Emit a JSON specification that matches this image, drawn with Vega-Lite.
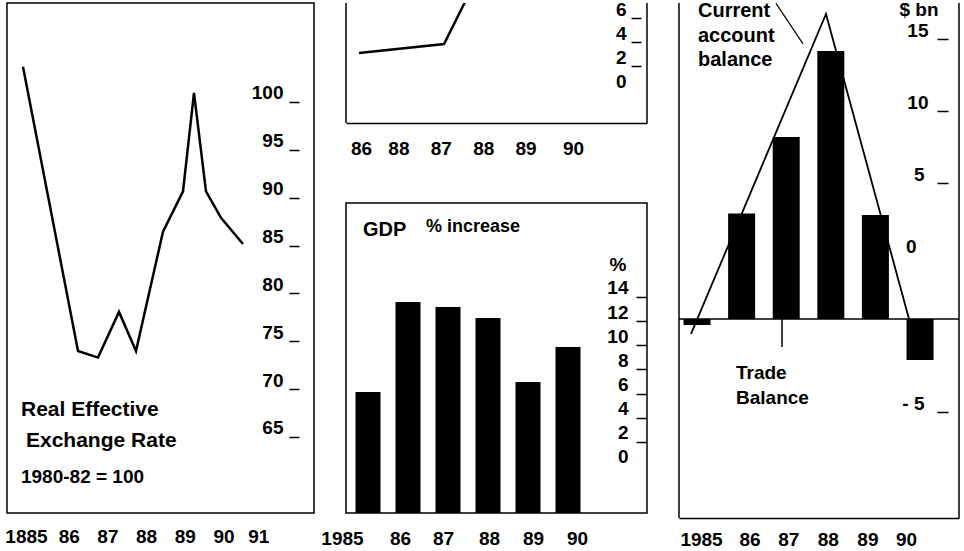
{
  "$schema": "https://vega.github.io/schema/vega-lite/v6.json",
  "background": "white",
  "padding": {"left": 4, "top": 0, "right": 0, "bottom": 0},
  "spacing": 32,
  "bounds": "flush",
  "config": {
    "font": "Liberation Sans",
    "view": {"stroke": "black", "strokeWidth": 1.5},
    "axis": {"labelFont": "Liberation Sans", "labelFontWeight": "bold", "labelFontSize": 19, "labelColor": "black", "grid": false, "domain": false, "ticks": false, "tickSize": 0, "tickColor": "black", "tickWidth": 1.5, "domainColor": "black", "domainWidth": 1.5},
    "text": {"font": "Liberation Sans", "fontWeight": "bold", "fontSize": 19, "color": "black"}
  },
  "datasets": {
    "rate": [
      {"year": 1984.922, "rate": 102.75}, {"year": 1986.344, "rate": 73.04}, {"year": 1986.86, "rate": 72.35},
      {"year": 1987.403, "rate": 77.12}, {"year": 1987.842, "rate": 73.04}, {"year": 1988.54, "rate": 85.5},
      {"year": 1989.057, "rate": 89.72}, {"year": 1989.341, "rate": 100}, {"year": 1989.651, "rate": 89.72},
      {"year": 1990.039, "rate": 86.96}, {"year": 1990.607, "rate": 84.22}
    ],
    "top": [
      {"t": -0.047, "v": 2.29}, {"t": 1.958, "v": 3.04}, {"t": 2.476, "v": 6.71}, {"t": 2.71, "v": 8.4}
    ],
    "gdp": [
      {"year": 1985, "gdp": 5.39}, {"year": 1986, "gdp": 12.84}, {"year": 1987, "gdp": 12.43},
      {"year": 1988, "gdp": 11.52}, {"year": 1989, "gdp": 6.21}, {"year": 1990, "gdp": 9.11}
    ],
    "trade": [
      {"year": 1985, "trade": -5.42}, {"year": 1986, "trade": 2.32}, {"year": 1987, "trade": 7.64},
      {"year": 1988, "trade": 13.61}, {"year": 1989, "trade": 2.22}, {"year": 1990, "trade": -7.85}
    ],
    "current": [
      {"year": 1984.865, "ca": -6.04}, {"year": 1987.892, "ca": 16.18}, {"year": 1989.753, "ca": -5.0}
    ]
  },
  "hconcat": [
    {
      "width": 307,
      "height": 510,
      "layer": [
        {
          "data": {"name": "rate"},
          "mark": {"type": "line", "color": "black", "strokeWidth": 2.5},
          "encoding": {
            "x": {"field": "year", "type": "quantitative", "title": null,
              "scale": {"domain": [1984.509, 1992.442], "nice": false, "zero": false},
              "axis": {"values": [1985, 1986, 1987, 1988, 1989, 1990, 1991], "format": "d",
                "labelExpr": "datum.value == 1985 ? '1885' : substring(datum.label, 2)",
                "labelPadding": 14,
                "labelOffset": {"condition": {"test": "datum.value > 1985 && datum.value < 1991", "value": 4}, "value": 0}}},
            "y": {"field": "rate", "type": "quantitative", "title": null,
              "scale": {"domain": [56.11, 109.4], "nice": false, "zero": false},
              "axis": {"orient": "left", "offset": -292, "values": [65, 70, 75, 80, 85, 90, 95, 100],
                "ticks": true, "tickSize": 10, "tickOffset": 9, "labelOffset": -9, "labelPadding": 6}}
          }
        },
        {
          "data": {"values": [{}]},
          "mark": {"type": "text", "text": "Real Effective", "align": "left", "baseline": "middle", "fontSize": 21},
          "encoding": {"x": {"datum": 1984.87}, "y": {"datum": 66.87}}
        },
        {
          "data": {"values": [{}]},
          "mark": {"type": "text", "text": "Exchange Rate", "align": "left", "baseline": "middle", "fontSize": 21},
          "encoding": {"x": {"datum": 1985.0}, "y": {"datum": 63.64}}
        },
        {
          "data": {"values": [{}]},
          "mark": {"type": "text", "text": "1980-82 = 100", "align": "left", "baseline": "middle", "fontSize": 19},
          "encoding": {"x": {"datum": 1984.87}, "y": {"datum": 59.87}}
        }
      ]
    },
    {
      "width": 301,
      "height": 510,
      "view": {"stroke": null},
      "resolve": {"scale": {"x": "independent", "y": "independent"}, "axis": {"x": "independent", "y": "independent"}},
      "layer": [
        {
          "layer": [
            {
              "data": {"name": "top"},
              "mark": {"type": "line", "color": "black", "strokeWidth": 2.5, "clip": true},
              "encoding": {
                "x": {"field": "t", "type": "quantitative", "title": null,
                  "scale": {"domain": [-0.354, 6.745], "nice": false, "zero": false},
                  "axis": {"orient": "bottom", "offset": -390, "values": [0, 1, 2, 3, 4, 5], "domain": true,
                    "labelExpr": "['86','88','87','88','89','90'][datum.value]", "labelPadding": 16,
                    "labelOffset": {"condition": {"test": "datum.value >= 1 && datum.value <= 4", "value": -5}, "value": 0}}},
                "y": {"field": "v", "type": "quantitative", "title": null,
                  "scale": {"domain": [-36.04, 6.46], "nice": false, "zero": false},
                  "axis": {"orient": "left", "offset": -295, "values": [0, 2, 4, 6],
                    "ticks": true, "tickSize": 10, "tickOffset": 9, "labelOffset": -8, "labelPadding": 5,
                    "tickOpacity": {"condition": {"test": "datum.value === 0", "value": 0}, "value": 1}}}
              }
            },
            {
              "data": {"values": [{}]},
              "mark": {"type": "rule", "color": "black", "strokeWidth": 1.5},
              "encoding": {"x": {"datum": -0.354}, "y": {"datum": 6.46}, "y2": {"datum": -3.54}}
            },
            {
              "data": {"values": [{}]},
              "mark": {"type": "rule", "color": "black", "strokeWidth": 1.5},
              "encoding": {"x": {"datum": 6.745}, "y": {"datum": 6.46}, "y2": {"datum": -3.54}}
            }
          ]
        },
        {
          "layer": [
            {
              "data": {"name": "gdp"},
              "mark": {"type": "bar", "color": "black", "size": 25},
              "encoding": {
                "x": {"field": "year", "type": "quantitative", "title": null,
                  "scale": {"domain": [1984.45, 1991.975], "nice": false, "zero": false, "padding": 0},
                  "axis": {"orient": "bottom", "values": [1985, 1986, 1987, 1988, 1989, 1990], "format": "d",
                    "labelExpr": "datum.value == 1985 ? '1985' : substring(datum.label, 2)",
                    "labelPadding": 16,
                    "labelOffset": {"condition": [
                      {"test": "datum.value == 1985", "value": -26},
                      {"test": "datum.value == 1986", "value": -8},
                      {"test": "datum.value == 1987", "value": -5},
                      {"test": "datum.value == 1989", "value": 5},
                      {"test": "datum.value == 1990", "value": 9}
                    ], "value": 1}}},
                "y": {"field": "gdp", "type": "quantitative", "title": null,
                  "scale": {"domain": [-4.64, 37.61], "nice": false, "zero": false},
                  "axis": {"orient": "left", "offset": -300, "values": [0, 2, 4, 6, 8, 10, 12, 14],
                    "ticks": true, "tickSize": 10, "tickOffset": 9, "labelOffset": -9, "labelPadding": 8,
                    "tickOpacity": {"condition": {"test": "datum.value === 0", "value": 0}, "value": 1}}},
                "y2": {"datum": -4.64}
              }
            },
            {
              "data": {"values": [{}]},
              "mark": {"type": "rect", "fillOpacity": 0, "stroke": "black", "strokeWidth": 1.5},
              "encoding": {"x": {"datum": 1984.45}, "x2": {"datum": 1991.975}, "y": {"datum": 21.04}, "y2": {"datum": -4.64}}
            },
            {
              "data": {"values": [{}]},
              "mark": {"type": "text", "text": "GDP", "align": "left", "baseline": "middle", "fontSize": 20},
              "encoding": {"x": {"datum": 1984.875}, "y": {"datum": 18.8}}
            },
            {
              "data": {"values": [{}]},
              "mark": {"type": "text", "text": "% increase", "align": "left", "baseline": "middle", "fontSize": 18},
              "encoding": {"x": {"datum": 1986.45}, "y": {"datum": 19.06}}
            },
            {
              "data": {"values": [{}]},
              "mark": {"type": "text", "text": "%", "align": "center", "baseline": "middle", "fontSize": 19},
              "encoding": {"x": {"datum": 1991.25}, "y": {"datum": 15.9}}
            }
          ]
        }
      ]
    },
    {
      "width": 280,
      "height": 515,
      "view": {"stroke": null},
      "layer": [
        {
          "data": {"name": "trade"},
          "mark": {"type": "bar", "color": "black", "size": 27},
          "encoding": {
            "x": {"field": "year", "type": "quantitative", "title": null,
              "scale": {"domain": [1984.596, 1990.874], "nice": false, "zero": false, "padding": 0},
              "axis": {"values": [1985, 1986, 1987, 1988, 1989, 1990], "format": "d", "domain": true,
                "labelExpr": "datum.value == 1985 ? '1985' : substring(datum.label, 2)",
                "labelPadding": 12,
                "labelOffset": {"condition": [
                  {"test": "datum.value == 1985", "value": 4},
                  {"test": "datum.value == 1986", "value": 8},
                  {"test": "datum.value == 1987", "value": 2},
                  {"test": "datum.value == 1988", "value": -3},
                  {"test": "datum.value == 1989", "value": -8}
                ], "value": -14}}},
            "y": {"field": "trade", "type": "quantitative", "title": null,
              "scale": {"domain": [-18.82, 16.94], "nice": false, "zero": false},
              "axis": {"orient": "left", "offset": -269, "values": [15, 10, 5, 0, -10.9],
                "labelExpr": "datum.value < -10 ? '- 5' : datum.label",
                "ticks": true, "tickSize": 11, "tickOffset": 8, "labelOffset": -8,
                "labelPadding": {"condition": [
                  {"test": "datum.value === 0", "value": 21},
                  {"test": "datum.value === 5 || datum.value < -10", "value": 13}
                ], "value": 9},
                "tickOpacity": {"condition": {"test": "datum.value === 0", "value": 0}, "value": 1}}},
            "y2": {"datum": -5}
          }
        },
        {
          "data": {"name": "current"},
          "mark": {"type": "line", "color": "black", "strokeWidth": 1.8},
          "encoding": {
            "x": {"field": "year", "type": "quantitative"},
            "y": {"field": "ca", "type": "quantitative"}
          }
        },
        {
          "data": {"values": [{}]},
          "mark": {"type": "rule", "color": "black", "strokeWidth": 1.5},
          "encoding": {"y": {"datum": -5}}
        },
        {
          "data": {"values": [{}]},
          "mark": {"type": "rule", "color": "black", "strokeWidth": 1.5},
          "encoding": {"x": {"datum": 1984.596}}
        },
        {
          "data": {"values": [{}]},
          "mark": {"type": "rule", "color": "black", "strokeWidth": 1.5},
          "encoding": {"x": {"datum": 1990.874}}
        },
        {
          "data": {"values": [{}]},
          "mark": {"type": "rule", "color": "black", "strokeWidth": 1.2},
          "encoding": {"x": {"datum": 1986.771}, "y": {"datum": 16.91}, "x2": {"datum": 1987.377}, "y2": {"datum": 14.1}}
        },
        {
          "data": {"values": [{}]},
          "mark": {"type": "rule", "color": "black", "strokeWidth": 1.5},
          "encoding": {"x": {"datum": 1986.906}, "y": {"datum": -5}, "y2": {"datum": -6.94}}
        },
        {
          "data": {"values": [{}]},
          "mark": {"type": "text", "text": ["Current", "account", "balance"], "align": "left", "baseline": "alphabetic", "fontSize": 20, "lineHeight": 24.5},
          "encoding": {"x": {"datum": 1985.022}, "y": {"datum": 15.95}}
        },
        {
          "data": {"values": [{}]},
          "mark": {"type": "text", "text": ["Trade", "Balance"], "align": "left", "baseline": "alphabetic", "fontSize": 19, "lineHeight": 25},
          "encoding": {"x": {"datum": 1985.874}, "y": {"datum": -9.17}}
        },
        {
          "data": {"values": [{}]},
          "mark": {"type": "text", "text": "$ bn", "align": "center", "baseline": "middle", "fontSize": 19},
          "encoding": {"x": {"datum": 1989.978}, "y": {"datum": 16.45}}
        }
      ]
    }
  ]
}
